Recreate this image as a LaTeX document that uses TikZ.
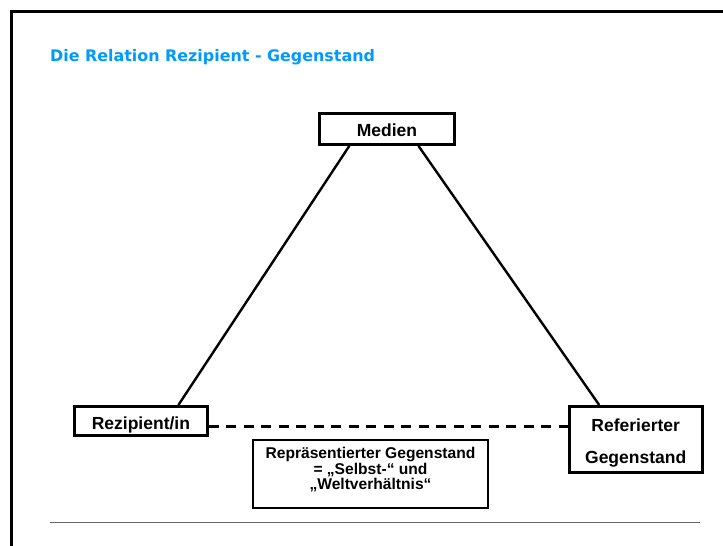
\documentclass[tikz,border=0pt]{standalone}
\usepackage{fontspec}
\setmainfont{Liberation Sans}
\newfontfamily\titlefont{DejaVu Sans}
\definecolor{titleblue}{HTML}{0099FF}
\begin{document}
\begin{tikzpicture}[x=1pt,y=-1pt]
	\tikzstyle{box} = [draw,line width=2.8pt,inner sep=0pt,font=\bfseries\fontsize{17.5}{21}\selectfont]
	\tikzstyle{link} = [line width=2.4pt]
	\useasboundingbox (0,0) rectangle (723,546);

		% frame and title
		\draw[line width=2.5pt] (11.5,546) -- (11.5,11.5) -- (723,11.5);
		\node[anchor=base west,inner sep=0pt,font=\titlefont\bfseries\fontsize{15.9}{18}\selectfont,text=titleblue] (title) at (50,61.5) {Die Relation Rezipient - Gegenstand};
		\draw[line width=1.5pt,gray!80!black] (50,522.5) -- (700,522.5);

		\node[box,anchor=north west,minimum width=135pt,text height=23pt,text depth=8pt] (medien) at (318,112) {Medien};
		\node[box,anchor=north west,minimum width=133pt,text height=23pt,text depth=6pt] (rezip) at (73,405) {Rezipient/in};
		\node[box,anchor=north west,minimum width=133pt,text height=25pt,text depth=41pt] (referiert) at ([xshift=359pt]rezip.north east)
			{\fontsize{17.5}{32}\selectfont\begin{tabular}[t]{@{}c@{}}Referierter\\Gegenstand\end{tabular}};
		\node[box,anchor=north,minimum width=235pt,text height=19pt,text depth=49pt,font=\bfseries\fontsize{15.6}{13.6}\selectfont] (repr) at (370.5,438.5)
			{\begin{tabular}[t]{@{}c@{}}Repräsentierter Gegenstand\\= „Selbst-“ und\\„Weltverhältnis“\end{tabular}};

		\draw[link] ([xshift=-37.5pt]medien.south) -- ([xshift=37.5pt]rezip.north);
		\draw[link] ([xshift=31.5pt]medien.south) -- ([xshift=-36.5pt]referiert.north);
		\draw[link,dash pattern=on 10pt off 7.5pt] ([yshift=-5.5pt]rezip.east) -- ([yshift=-5.5pt]rezip.east -| referiert.west);
\end{tikzpicture}
\end{document}
